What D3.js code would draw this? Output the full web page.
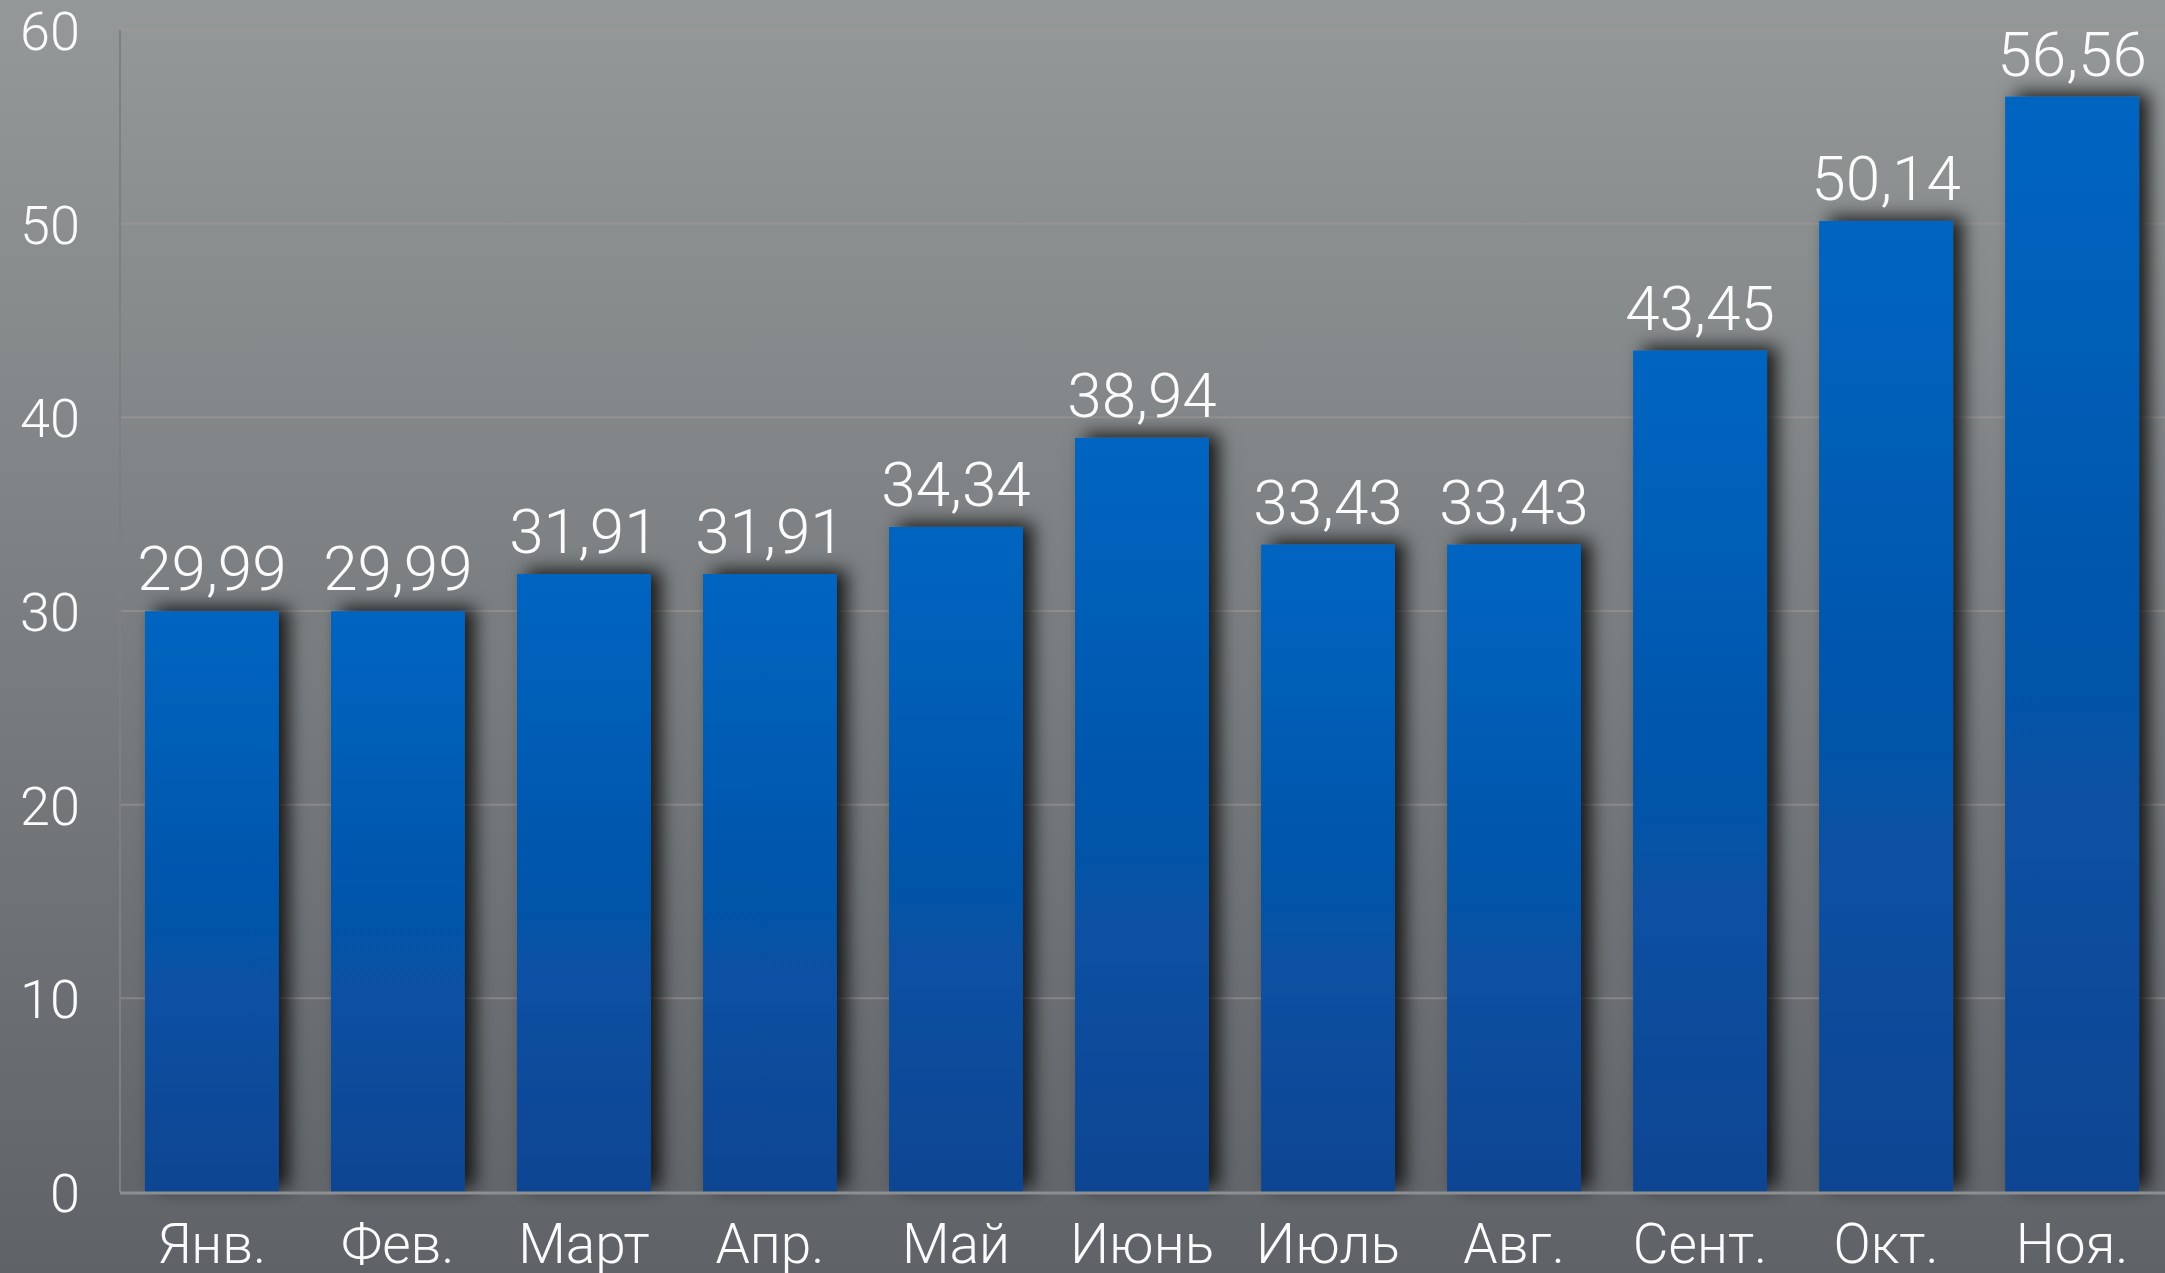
<!DOCTYPE html>
<html lang="ru">
<head>
    <meta charset="UTF-8">
    <title>Цены по месяцам</title>
    <script src="https://d3js.org/d3.v7.min.js"></script>
    <style>
        html, body { margin: 0; padding: 0; overflow: hidden; }
        svg { display: block; }
        text { font-family: Roboto, "Open Sans", sans-serif; font-weight: 300; fill: #fbfbfb; }
    </style>
</head>
<body>
<svg id="chart" width="2165" height="1273"></svg>
<script>
    // данные
    const months = ["Янв.", "Фев.", "Март", "Апр.", "Май", "Июнь", "Июль", "Авг.", "Сент.", "Окт.", "Ноя."];
    const values = [29.99, 29.99, 31.91, 31.91, 34.34, 38.94, 33.43, 33.43, 43.45, 50.14, 56.56];
    const yTicks = [0, 10, 20, 30, 40, 50, 60];

    const width = 2165;
    const height = 1273;
    const plotLeft = 120, plotRight = 2164, plotTop = 30, plotBottom = 1192;

    const svg = d3.select("#chart");
    const defs = svg.append("defs");

    // фон
    const bg = defs.append("linearGradient").attr("id", "bg")
        .attr("x1", 0).attr("y1", 0).attr("x2", 0).attr("y2", 1);
    bg.append("stop").attr("offset", "0%").attr("stop-color", "#949898");
    bg.append("stop").attr("offset", "100%").attr("stop-color", "#5f6368");

    const barGrad = defs.append("linearGradient").attr("id", "bar")
        .attr("x1", 0).attr("y1", 0).attr("x2", 0).attr("y2", 1);
    barGrad.append("stop").attr("offset", "0%").attr("stop-color", "#0065c1");
    barGrad.append("stop").attr("offset", "100%").attr("stop-color", "#0b4592");

    const shadow = defs.append("filter").attr("id", "shadow")
        .attr("x", "-30%").attr("y", "-10%").attr("width", "160%").attr("height", "120%");
    shadow.append("feDropShadow")
        .attr("dx", 10).attr("dy", -4).attr("stdDeviation", 9)
        .attr("flood-color", "#000").attr("flood-opacity", 0.8);

    svg.append("rect").attr("width", width).attr("height", height).attr("fill", "url(#bg)");

    const x = d3.scaleBand()
        .domain(months)
        .range([plotLeft, plotRight])
        .paddingInner(0.28)
        .paddingOuter(0.134);

    const y = d3.scaleLinear()
        .domain([0, 60])
        .range([plotBottom, plotTop]);

    // сетка
    svg.append("g")
        .selectAll("line")
        .data(yTicks.filter(d => d > 0))
        .join("line")
        .attr("x1", plotLeft).attr("x2", plotRight + 1)
        .attr("y1", d => y(d)).attr("y2", d => y(d))
        .attr("stroke", "#a09a98")
        .attr("stroke-opacity", 0.55)
        .attr("stroke-width", 2);

    svg.append("line")
        .attr("x1", plotLeft).attr("x2", plotLeft)
        .attr("y1", plotTop).attr("y2", plotBottom)
        .attr("stroke", "#7e8080").attr("stroke-width", 2);

    // столбцы
    svg.append("g")
        .selectAll("rect")
        .data(values)
        .join("rect")
        .attr("x", (d, i) => x(months[i]))
        .attr("y", d => y(d))
        .attr("width", x.bandwidth())
        .attr("height", d => y(0) - y(d))
        .attr("fill", "url(#bar)")
        .attr("filter", "url(#shadow)");

    // ось X
    svg.append("line")
        .attr("x1", plotLeft).attr("x2", width)
        .attr("y1", plotBottom + 1).attr("y2", plotBottom + 1)
        .attr("stroke", "#8d8f90").attr("stroke-width", 3);

    // подписи значений
    svg.append("g")
        .selectAll("text")
        .data(values)
        .join("text")
        .attr("x", (d, i) => x(months[i]) + x.bandwidth() / 2)
        .attr("y", d => y(d) - 21)
        .attr("text-anchor", "middle")
        .attr("font-size", 62)
        .text(d => d.toFixed(2).replace(".", ","));

    // подписи месяцев
    svg.append("g")
        .selectAll("text")
        .data(months)
        .join("text")
        .attr("x", d => x(d) + x.bandwidth() / 2)
        .attr("y", 1263)
        .attr("text-anchor", "middle")
        .attr("font-size", 55)
        .text(d => d);

    // ось Y
    svg.append("g")
        .selectAll("text")
        .data(yTicks)
        .join("text")
        .attr("x", 80)
        .attr("y", d => y(d) + 20)
        .attr("text-anchor", "end")
        .attr("font-size", 54)
        .text(d => d);
</script>
</body>
</html>
